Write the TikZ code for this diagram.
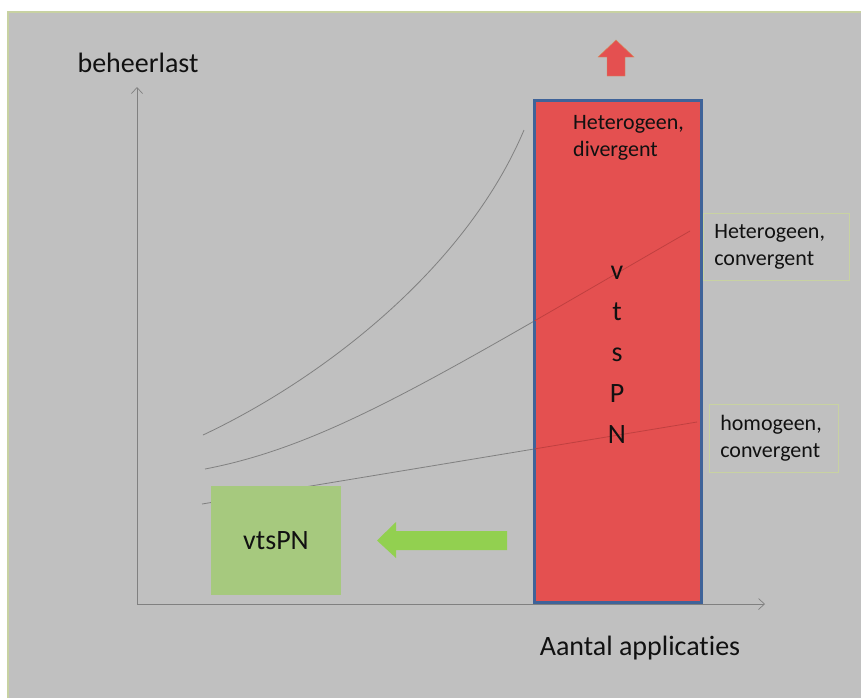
\documentclass[tikz,border=0pt]{standalone}
\usepackage{fontspec}
\setmainfont{Carlito}[Ligatures=NoCommon]
\definecolor{bgray}{HTML}{C0C0C0}
\definecolor{bframe}{HTML}{C8D2A2}
\definecolor{axisgray}{HTML}{808080}
\definecolor{redfill}{HTML}{E45050}
\definecolor{redline}{HTML}{C04040}
\definecolor{blueframe}{HTML}{3F6399}
\definecolor{greenbox}{HTML}{A6C97E}
\definecolor{greenarrow}{HTML}{92D050}
\definecolor{arrowedge}{HTML}{D4905A}
\definecolor{txt}{HTML}{111111}
\tikzset{
  axis/.style={draw=axisgray, line width=0.9pt, -{Straight Barb[length=6pt,width=11pt,line width=0.7pt]}},
  curve/.style={draw=axisgray, line width=0.8pt},
  incurve/.style={draw=redline, line width=0.8pt},
  lblbox/.style={draw=bframe, line width=0.6pt, fill=bgray, inner sep=11pt, align=left,
                 font=\fontsize{22}{27}\selectfont, text=txt, minimum height=66pt},
  bigtxt/.style={font=\fontsize{28}{34}\selectfont, text=txt, inner sep=0pt},
}
\usetikzlibrary{arrows.meta}
\begin{document}
\begin{tikzpicture}[x=1pt,y=-1pt]
\useasboundingbox (0,0) rectangle (861,697);
\fill[white] (0,0) rectangle (861,697);
\fill[bgray] (8,12) rectangle (870,710);
\draw[bframe, line width=1.5pt] (8,710) -- (8,12) -- (870,12);

% axes
\coordinate (O) at (137,604);
\coordinate (ytop) at (137,87);
\coordinate (xend) at (765,604);
\draw[axis] (O) -- (ytop);
\draw[axis] (O) -- (xend);
\node[bigtxt, anchor=base] (ylab) at (138,72) {beheerlast};
\node[bigtxt, anchor=base] (xlab) at (640,655) {Aantal applicaties};

% curves (gray, under the red box)
\coordinate (u0) at (203,435);
\coordinate (u1) at (524,130);
\coordinate (m0) at (205,469);
\coordinate (m1) at (690,231);
\coordinate (l0) at (202,504);
\coordinate (l1) at (697,422);
\draw[curve] (u0) .. controls (320,380) and (465,270) .. (u1);
\draw[curve] (m0) .. controls (330,445) and (440,375) .. (m1);
\draw[curve] (l0) -- (l1);

% red box
\node[draw=blueframe, line width=2.6pt, fill=redfill, minimum width=167pt, minimum height=502pt,
      inner sep=0pt, anchor=north west] (redbox) at (533,99) {};
\begin{scope}
  \clip (534.5,100.5) rectangle (698.5,599.5);
  \draw[incurve] (m0) .. controls (330,445) and (440,375) .. (m1);
  \draw[incurve] (l0) -- (l1);
\end{scope}

\node[font=\fontsize{22}{27}\selectfont, text=txt, inner sep=0pt, align=left, anchor=north west]
  (hd) at (573,115.5) {Heterogeen,\\divergent};
\node[font=\fontsize{28}{41}\selectfont, text=txt, inner sep=0pt, align=center, anchor=north]
  (vts) at (617,266) {v\\t\\s\\P\\N};

% red up arrow
\filldraw[fill=redfill, draw=arrowedge, line width=0.4pt]
  (616,40) -- (634,57) -- (625,57) -- (625,76) -- (607,76) -- (607,57) -- (598,57) -- cycle;

% label boxes
\node[lblbox, text width=124pt, anchor=north west] (hc) at (703,213) {Heterogeen,\\convergent};
\node[lblbox, text width=107pt, anchor=north west] (hoc) at (709,404) {homogeen,\\convergent};

% green box and arrow
\node[fill=greenbox, minimum width=130pt, minimum height=109pt, inner sep=0pt,
      font=\fontsize{28}{34}\selectfont, text=txt] (vtspn) at (276,540.5) {vtsPN};
\fill[greenarrow] (507,531) -- (396,531) -- (396,522) -- (377,540.5) -- (396,558) -- (396,550) -- (507,550) -- cycle;
\end{tikzpicture}
\end{document}
